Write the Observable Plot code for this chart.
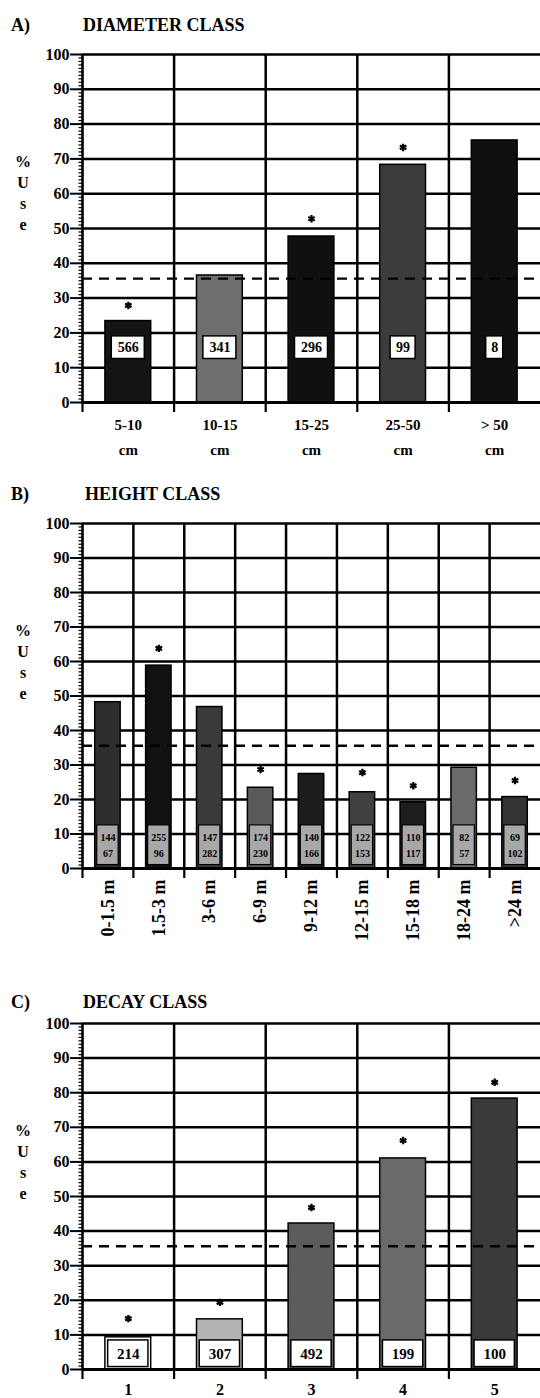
<!DOCTYPE html>
<html><head><meta charset="utf-8">
<script src="https://cdn.jsdelivr.net/npm/d3@7"></script>
<script src="https://cdn.jsdelivr.net/npm/@observablehq/plot@0.6"></script>
<style>
body{margin:0;background:#fff;}
#wrap{position:relative;width:540px;height:1398px;overflow:hidden;font-family:"Liberation Serif",serif;font-weight:bold;color:#000;background:#fff;}
.panel{position:absolute;left:0;z-index:1;}
.ttl{position:absolute;font-size:18px;line-height:18px;white-space:nowrap;z-index:2;}
.ylab{position:absolute;left:15px;width:16px;text-align:center;font-size:16px;line-height:21px;z-index:2;}
</style></head><body><div id="wrap"></div>
<script>
// ---------- data ----------
const diamCats  = ["5-10\ncm", "10-15\ncm", "15-25\ncm", "25-50\ncm", "> 50\ncm"];
const diamUse   = [23.4, 36.5, 47.7, 68.3, 75.3];
const diamStar  = [27.9, null, 52.8, 73.3, null];
const diamN     = ["566", "341", "296", "99", "8"];

const heightCats = ["0-1.5 m", "1.5-3 m", "3-6 m", "6-9 m", "9-12 m", "12-15 m", "15-18 m", "18-24 m", ">24 m"];
const heightUse  = [48.2, 58.8, 46.8, 23.4, 27.4, 22.1, 19.2, 29.2, 20.7];
const heightStar = [null, 63.8, null, 28.7, null, 27.8, 24.0, null, 25.5];
const heightN1   = ["144", "255", "147", "174", "140", "122", "110", "82", "69"];
const heightN2   = ["67", "96", "282", "230", "166", "153", "117", "57", "102"];

const decayCats = ["1", "2", "3", "4", "5"];
const decayUse  = [9.3, 14.5, 42.2, 61.0, 78.3];
const decayStar = [14.7, 19.4, 46.8, 66.2, 83.0];
const decayN    = ["214", "307", "492", "199", "100"];

const meanUse = 35.6;
const yMajor = d3.range(0, 101, 10);
const yMinor = d3.range(0, 101, 1);

// ---------- styles ----------
const diamFill   = ["#141414", "#6e6e6e", "#101010", "#3c3c3c", "#101010"];
const heightFill = ["#2e2e2e", "#111111", "#3a3a3a", "#5a5a5a", "#1c1c1c", "#404040", "#1e1e1e", "#6a6a6a", "#333333"];
const decayFill  = ["#ffffff", "#b4b4b4", "#5c5c5c", "#6a6a6a", "#3a3a3a"];

const W = 540, ML = 82, MR = 0;
const wrap = document.getElementById("wrap");

function addDiv(cls, top, left, html) {
  const d = document.createElement("div");
  d.className = cls; d.style.top = top + "px"; if (left != null) d.style.left = left + "px";
  d.innerHTML = html; wrap.appendChild(d); return d;
}

function panel({cats, use, star, fills, top, height, mb, extra, labels}) {
  const n = cats.length;
  const rows = cats.map((c, i) => ({i, c, use: use[i], star: star[i], fill: fills[i]}));
  const marks = [
    Plot.ruleY(yMajor.filter(v => v > 0), {stroke: "#000", strokeWidth: 2.5}),
    Plot.ruleX(d3.range(1, n), {stroke: "#000", strokeWidth: 2.5}),
    Plot.rectY(rows, {x1: d => d.i + 0.25, x2: d => d.i + 0.75, y1: 0, y2: "use", fill: "fill", stroke: "#000", strokeWidth: 1.5}),
    ...extra(rows, n),
    Plot.ruleY([meanUse], {stroke: "#000", strokeWidth: 2.4, strokeDasharray: "10,7"}),
    Plot.dot(rows.filter(d => d.star != null), {x: d => d.i + 0.5, y: "star", symbol: "asterisk", r: 3.5, stroke: "#000", strokeWidth: 2.2}),
    Plot.ruleY([0], {stroke: "#000", strokeWidth: 2.8}),
    Plot.ruleX([0], {stroke: "#000", strokeWidth: 2.6}),
    Plot.axisY(yMinor, {tickSize: 3.5, tickFormat: () => "", strokeWidth: 1.2, label: null}),
    Plot.axisY(yMajor, {tickSize: 12, tickPadding: 1, fontSize: 16, fontWeight: "bold", strokeWidth: 2, label: null}),
    Plot.axisX(d3.range(0, n), {tickSize: 10, tickFormat: () => "", strokeWidth: 2.2, label: null}),
    labels(rows)
  ];
  const svg = Plot.plot({
    width: W, height, marginLeft: ML, marginRight: MR, marginTop: 14, marginBottom: mb,
    x: {domain: [0, n]}, y: {domain: [0, 100]}, color: {type: "identity"},
    style: "font-family:'Liberation Serif',serif;font-weight:bold;background:transparent;overflow:visible;",
    marks
  });
  svg.classList.add("panel");
  svg.style.top = top + "px";
  wrap.appendChild(svg);
}

function yLabel(top) {
  addDiv("ylab", top, null, "%<br>U<br>s<br>e");
}

// ---------- A) diameter ----------
addDiv("ttl", 16, 11, "A)");
addDiv("ttl", 16, 83, "DIAMETER CLASS");
yLabel(151);
panel({
  cats: diamCats, use: diamUse, star: diamStar, fills: diamFill,
  top: 40, height: 418, mb: 56,
  extra: (rows, n) => {
    const step = (W - ML - MR) / n;
    const b = rows.map(d => ({...d, lab: diamN[d.i], hw: (diamN[d.i].length * 8 + 9) / 2 / step}));
    return [
      Plot.rect(b, {x1: d => d.i + 0.5 - d.hw, x2: d => d.i + 0.5 + d.hw, y1: 12.5, y2: 19, fill: "#fff", stroke: "#000", strokeWidth: 1.5}),
      Plot.text(b, {x: d => d.i + 0.5, y: 15.7, text: "lab", fontSize: 14, fontWeight: "bold"})
    ];
  },
  labels: rows => Plot.text(rows, {x: d => d.i + 0.5, y: 0, text: "c", dy: 10, lineAnchor: "top", lineHeight: 1.65, fontSize: 15, fontWeight: "bold"})
});

// ---------- B) height ----------
addDiv("ttl", 485, 11, "B)");
addDiv("ttl", 485, 85, "HEIGHT CLASS");
yLabel(620);
panel({
  cats: heightCats, use: heightUse, star: heightStar, fills: heightFill,
  top: 509, height: 451, mb: 92,
  extra: (rows, n) => {
    const b = rows.map(d => ({...d, a: heightN1[d.i], z: heightN2[d.i]}));
    return [
      Plot.rect(b, {x1: d => d.i + 0.29, x2: d => d.i + 0.71, y1: 1, y2: 12.5, fill: "#a8a8a8", stroke: "#000", strokeWidth: 1.2}),
      Plot.text(b, {x: d => d.i + 0.5, y: 9, text: "a", fontSize: 10, fontWeight: "bold"}),
      Plot.text(b, {x: d => d.i + 0.5, y: 4.3, text: "z", fontSize: 10, fontWeight: "bold"})
    ];
  },
  labels: rows => Plot.text(rows, {x: d => d.i + 0.5, y: 0, dy: 11, text: "c", rotate: -90, textAnchor: "end", lineAnchor: "middle", fontSize: 18, fontWeight: "bold"})
});

// ---------- C) decay ----------
addDiv("ttl", 993, 11, "C)");
addDiv("ttl", 993, 83, "DECAY CLASS");
yLabel(1120);
panel({
  cats: decayCats, use: decayUse, star: decayStar, fills: decayFill,
  top: 1009, height: 388, mb: 28,
  extra: (rows, n) => {
    const b = rows.map(d => ({...d, lab: decayN[d.i]}));
    return [
      Plot.rect(b, {x1: d => d.i + 0.28, x2: d => d.i + 0.72, y1: 0.7, y2: 8.4, fill: "#fff", stroke: "#000", strokeWidth: 1.5}),
      Plot.text(b, {x: d => d.i + 0.5, y: 4.5, text: "lab", fontSize: 15, fontWeight: "bold"})
    ];
  },
  labels: rows => Plot.text(rows, {x: d => d.i + 0.5, y: 0, text: "c", dy: 14, lineAnchor: "top", fontSize: 16, fontWeight: "bold"})
});
</script></body></html>
